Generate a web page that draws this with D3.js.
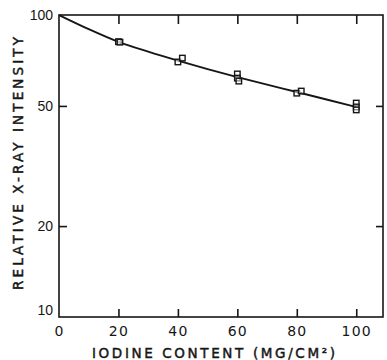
<!DOCTYPE html>
<html>
<head>
<meta charset="utf-8">
<script src="https://cdn.jsdelivr.net/npm/d3@7"></script>
<style>
  html, body { margin: 0; padding: 0; background: #fff; }
  svg { display: block; }
</style>
</head>
<body>
<svg id="chart" width="387" height="360"></svg>
<script>
// Measured points: iodine content (mg/cm²) and relative X-ray intensity (%)
const sampleContent   = [20, 20.5, 40, 41.5, 60, 60, 60.5, 80, 81.5, 100, 100, 100];
const sampleIntensity = [81.6, 81.3, 69.9, 72.0, 63.8, 61.8, 60.4, 55.1, 56.0, 51.1, 49.6, 48.5];

// Smooth attenuation curve drawn through the data
const curveContent   = [0, 10, 20, 30, 40, 50, 60, 70, 80, 90, 100];
const curveIntensity = [100, 89.8, 81.5, 75.6, 70.6, 66.2, 62.3, 58.8, 55.6, 52.5, 49.6];

// Tick labels
const xTicks = [0, 20, 40, 60, 80, 100];
const yTicks = [10, 20, 50, 100];

const ink = "#161616";
const svg = d3.select("#chart");

const x = d3.scaleLinear().domain([0, 109]).range([59, 383]);
const y = d3.scaleLog().domain([10, 100]).range([317, 15]);

// Plot frame
svg.append("rect")
  .attr("x", x(0)).attr("y", y(100))
  .attr("width", x(109) - x(0)).attr("height", y(10) - y(100))
  .attr("fill", "none").attr("stroke", ink).attr("stroke-width", 1.6);

// Bottom axis: inward ticks with labels beneath
const xBottom = svg.append("g")
  .attr("transform", `translate(0,${y(10)})`)
  .call(d3.axisBottom(x).tickValues(xTicks).tickSize(-8).tickPadding(6).tickFormat(d3.format("d")));
xBottom.select(".domain").remove();
xBottom.selectAll(".tick line").attr("stroke", ink).attr("stroke-width", 1.6)
  .attr("display", d => d === 0 ? "none" : null);
xBottom.selectAll(".tick text")
  .attr("fill", ink)
  .attr("font-family", "'DejaVu Sans', sans-serif")
  .attr("font-size", 14)
  .attr("letter-spacing", 1.2)
  .attr("dy", "0.95em");

// Top axis: inward ticks only
const xTop = svg.append("g")
  .attr("transform", `translate(0,${y(100)})`)
  .call(d3.axisTop(x).tickValues(xTicks.filter(d => d > 0)).tickSize(-9).tickFormat(""));
xTop.select(".domain").remove();
xTop.selectAll(".tick line").attr("stroke", ink).attr("stroke-width", 1.6);

// Left axis: inward ticks at 20 and 50, labels for every decade mark
const yLeft = svg.append("g")
  .attr("transform", `translate(${x(0)},0)`)
  .call(d3.axisLeft(y).tickValues(yTicks).tickSize(-8).tickPadding(6).tickFormat(d3.format("d")));
yLeft.select(".domain").remove();
yLeft.selectAll(".tick line").attr("stroke", ink).attr("stroke-width", 1.6)
  .attr("display", d => (d === 10 || d === 100) ? "none" : null);
yLeft.selectAll(".tick text")
  .attr("fill", ink)
  .attr("font-family", "'Liberation Sans', Arial, sans-serif")
  .attr("font-size", 14)
  .attr("x", -6)
  .attr("dy", d => d === 10 ? "-0.2em" : "0.35em");

// Right axis: inward ticks at 20 and 50
const yRight = svg.append("g")
  .attr("transform", `translate(${x(109)},0)`)
  .call(d3.axisRight(y).tickValues([20, 50]).tickSize(-7).tickFormat(""));
yRight.select(".domain").remove();
yRight.selectAll(".tick line").attr("stroke", ink).attr("stroke-width", 1.6).attr("x2", -7);

// Fitted curve
const curvePts = curveContent.map((c, i) => [c, curveIntensity[i]]);
svg.append("path")
  .datum(curvePts)
  .attr("fill", "none").attr("stroke", ink).attr("stroke-width", 1.9)
  .attr("d", d3.line().x(d => x(d[0])).y(d => y(d[1])).curve(d3.curveMonotoneX));

// Open square markers
const s = 5.5;
svg.append("g").selectAll("rect")
  .data(sampleContent.map((c, i) => [c, sampleIntensity[i]]))
  .join("rect")
  .attr("x", d => x(d[0]) - s / 2).attr("y", d => y(d[1]) - s / 2)
  .attr("width", s).attr("height", s)
  .attr("fill", "#fff").attr("fill-opacity", 0.5)
  .attr("stroke", ink).attr("stroke-width", 1.4);

// Axis titles: wide, letter-spaced capitals
const titleStyle = sel => sel
  .attr("text-anchor", "middle")
  .attr("font-family", "'DejaVu Sans', sans-serif")
  .attr("font-size", 13.5)
  .attr("fill", ink)
  .attr("stroke", ink).attr("stroke-width", 0.45)
  .attr("lengthAdjust", "spacing");

svg.append("text")
  .attr("x", 213.5).attr("y", 358)
  .call(titleStyle)
  .attr("textLength", 243)
  .text("IODINE CONTENT (MG/CM²)");

svg.append("text")
  .attr("transform", "translate(23,163.5) rotate(-90)")
  .call(titleStyle)
  .attr("textLength", 253)
  .text("RELATIVE X-RAY INTENSITY");
</script>
</body>
</html>
